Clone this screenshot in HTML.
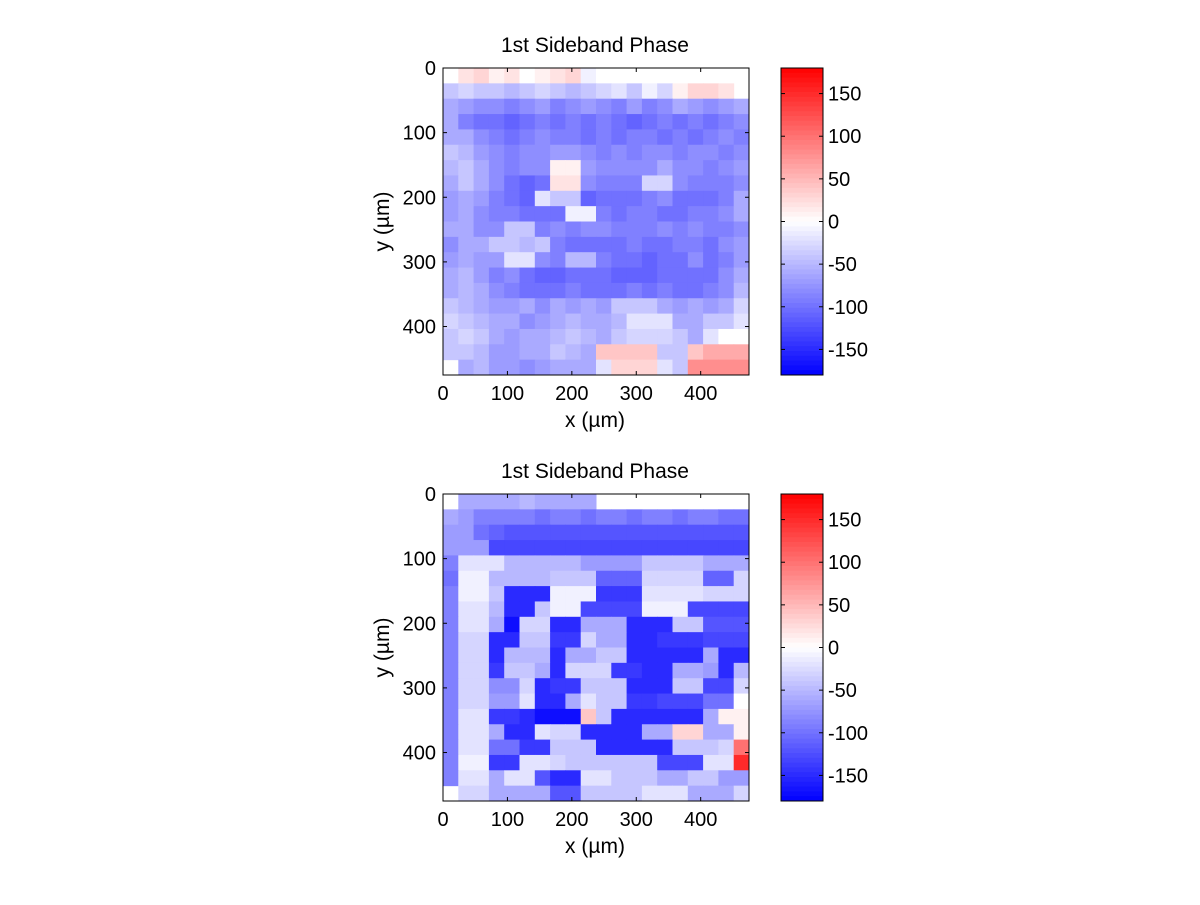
<!DOCTYPE html>
<html><head><meta charset="utf-8"><style>
body{margin:0;background:#fff;}
svg text{font-family:"Liberation Sans",Arial,sans-serif;fill:#000;}
</style></head><body>
<svg id="fig" width="1200" height="900" xmlns="http://www.w3.org/2000/svg"></svg>
<script>
const N=NaN;
const xTicks=[0,100,200,300,400];
const yTicks=[0,100,200,300,400];
const cbTicks=[150,100,50,0,-50,-100,-150];
const topPhase=[
[N,20,30,10,20,0,10,20,30,-10,0,N,N,N,N,N,N,N,N,N],
[-40,-30,-40,-40,-50,-40,-30,-40,-50,-40,-30,-20,-40,-10,-30,10,30,30,20,N],
[-60,-70,-80,-80,-90,-80,-70,-90,-80,-70,-80,-90,-70,-90,-80,-60,-70,-80,-70,-60],
[-60,-90,-100,-100,-110,-100,-90,-100,-90,-100,-90,-100,-110,-100,-90,-100,-90,-100,-90,-80],
[-60,-60,-80,-90,-100,-90,-80,-90,-90,-100,-90,-100,-90,-90,-100,-90,-100,-90,-80,-90],
[-40,-50,-70,-80,-90,-80,-80,-70,-70,-80,-90,-80,-90,-80,-80,-90,-80,-80,-90,-80],
[-50,-40,-60,-80,-90,-80,-80,10,10,-70,-80,-80,-80,-80,-60,-80,-80,-90,-80,-70],
[-60,-40,-60,-80,-100,-110,-100,20,20,-80,-90,-90,-90,-30,-30,-80,-90,-90,-90,-80],
[-70,-60,-70,-90,-100,-110,-20,-40,-40,-110,-100,-100,-100,-90,-80,-100,-100,-100,-90,-60],
[-70,-60,-80,-90,-90,-100,-100,-100,-10,-10,-90,-100,-90,-90,-100,-100,-90,-90,-80,-60],
[-60,-60,-80,-80,-40,-40,-90,-80,-90,-80,-80,-90,-90,-90,-80,-90,-80,-90,-90,-80],
[-80,-60,-60,-40,-40,-50,-40,-90,-100,-100,-100,-100,-90,-100,-100,-90,-90,-100,-80,-70],
[-70,-60,-70,-70,-20,-20,-80,-90,-50,-50,-90,-100,-100,-110,-100,-100,-80,-100,-90,-70],
[-60,-50,-70,-90,-80,-100,-110,-110,-100,-100,-100,-110,-110,-110,-100,-100,-100,-100,-80,-60],
[-60,-50,-60,-80,-90,-100,-100,-100,-90,-100,-100,-100,-90,-100,-90,-100,-100,-90,-80,-50],
[-40,-50,-60,-70,-70,-60,-80,-60,-70,-60,-70,-40,-40,-40,-60,-70,-60,-70,-60,-30],
[-30,-40,-50,-60,-60,-80,-70,-60,-50,-60,-60,-50,-20,-20,-20,-60,-60,-40,-40,-20],
[-40,-30,-40,-60,-70,-60,-60,-50,-40,-50,-60,-40,-30,-30,-30,-40,-60,-20,0,0],
[-40,-40,-50,-70,-70,-60,-60,-40,-50,-60,40,40,40,40,-40,-40,40,60,60,60],
[N,-60,-50,-70,-70,-80,-70,-60,-60,-60,-20,30,30,30,-20,-40,80,80,80,80]];
const botPhase=[
[N,-60,-60,-60,-60,-50,-60,-60,-60,-60,N,N,N,N,N,N,N,N,N,N],
[-60,-70,-90,-90,-90,-90,-100,-90,-90,-100,-90,-90,-100,-90,-90,-100,-90,-90,-100,-100],
[-70,-70,-100,-110,-120,-120,-120,-120,-120,-120,-120,-120,-120,-120,-120,-120,-120,-120,-120,-120],
[-70,-70,-70,-130,-130,-130,-130,-130,-130,-130,-130,-130,-130,-130,-130,-130,-130,-130,-130,-130],
[-90,-20,-20,-20,-50,-50,-50,-50,-50,-70,-70,-70,-70,-40,-40,-40,-40,-60,-60,-60],
[-100,-10,-10,-50,-50,-50,-50,-40,-40,-40,-110,-110,-110,-30,-30,-30,-30,-110,-110,-30],
[-90,-10,-10,-40,-150,-150,-150,-10,-10,-10,-140,-140,-140,-20,-20,-20,-20,-30,-30,-30],
[-90,-20,-20,-50,-150,-150,-40,-10,-10,-130,-130,-130,-130,-10,-10,-10,-130,-130,-130,-130],
[-90,-20,-20,-60,-170,-30,-30,-150,-150,-60,-60,-60,-150,-150,-150,-40,-40,-120,-120,-120],
[-90,-30,-30,-150,-150,-40,-40,-140,-140,-30,-60,-60,-150,-150,-140,-140,-140,-130,-130,-130],
[-90,-30,-30,-150,-50,-50,-50,-150,-60,-60,-40,-40,-150,-150,-150,-150,-150,-60,-150,-150],
[-90,-30,-30,-140,-40,-40,-60,-150,-30,-30,-30,-140,-140,-150,-150,-60,-60,-70,-150,-50],
[-90,-30,-30,-80,-80,-30,-150,-140,-140,-40,-40,-40,-150,-150,-150,-40,-40,-130,-130,-30],
[-90,-30,-30,-70,-70,-20,-150,-150,-60,-20,-40,-40,-140,-140,-130,-130,-130,-100,-100,0],
[-90,-20,-20,-140,-140,-150,-170,-170,-170,40,-40,-150,-150,-150,-150,-150,-150,-60,10,10],
[-90,-20,-20,-60,-150,-150,-20,-30,-30,-150,-150,-150,-150,-60,-60,30,30,-60,-60,10],
[-90,-20,-20,-100,-100,-140,-140,-40,-40,-40,-150,-150,-150,-150,-150,-40,-40,-40,-30,100],
[-90,-10,-10,-140,-140,-20,-20,-30,-40,-40,-40,-40,-40,-40,-130,-130,-130,-20,-20,150],
[-90,-20,-20,-60,-20,-20,-120,-150,-150,-20,-20,-40,-40,-40,-60,-60,-40,-40,-70,-70],
[N,-30,-30,-60,-60,-60,-60,-120,-120,-40,-40,-40,-40,-20,-20,-20,-60,-60,-60,-30]];

const NS="http://www.w3.org/2000/svg";
const svg=document.getElementById('fig');
function mk(tag,attrs,parent){const e=document.createElementNS(NS,tag);for(const k in attrs)e.setAttribute(k,attrs[k]);(parent||svg).appendChild(e);return e;}
function color(v){const t=Math.max(-1,Math.min(1,v/180));
 if(t<0){const c=Math.round(255*(1+t));return `rgb(${c},${c},255)`;}
 const c=Math.round(255*(1-t));return `rgb(255,${c},${c})`;}
const AX0=443,AX1=749,DMAX=475,FS=20;
function drawPanel(top,data,idx){
 const bot=top+307;
 const sx=v=>AX0+(v/DMAX)*(AX1-AX0);
 const sy=v=>top+(v/DMAX)*(bot-top);
 const g=mk('g',{});
 
 
 const rows=data.length,cols=data[0].length;
 for(let r=0;r<rows;r++)for(let c=0;c<cols;c++){
  const v=data[r][c]; if(isNaN(v))continue;
  const x0=sx(c*DMAX/cols),x1=sx((c+1)*DMAX/cols),y0=sy(r*DMAX/rows),y1=sy((r+1)*DMAX/rows);
  const cell=mk('rect',{x:x0,y:y0,width:x1-x0+0.5,height:y1-y0+0.5,fill:color(v)},g);
  
  
 }
 const frame=mk('rect',{x:AX0,y:top,width:AX1-AX0,height:bot-top,fill:'none',stroke:'#000','stroke-width':1});
 
 
 xTicks.forEach(t=>{const x=sx(t);
  mk('line',{x1:x,x2:x,y1:bot,y2:bot-4,stroke:'#000'});mk('line',{x1:x,x2:x,y1:top,y2:top+4,stroke:'#000'});
  const tx=mk('text',{x:x,y:bot+25,'font-size':FS,'text-anchor':'middle'});tx.textContent=t;
  
  });
 yTicks.forEach(t=>{const y=sy(t);
  mk('line',{x1:AX0,x2:AX0+4,y1:y,y2:y,stroke:'#000'});mk('line',{x1:AX1,x2:AX1-4,y1:y,y2:y,stroke:'#000'});
  const tx=mk('text',{x:AX0-7,y:y+7,'font-size':FS,'text-anchor':'end'});tx.textContent=t;
  
  });
 const ti=mk('text',{x:595,y:top-16,'font-size':21,'text-anchor':'middle'});ti.textContent='1st Sideband Phase';
 
 
 const xl=mk('text',{x:595,y:bot+52,'font-size':21,'text-anchor':'middle'});xl.textContent='x (\u00b5m)';
 
 
 const yl=mk('text',{x:0,y:0,'font-size':21,'text-anchor':'middle',transform:`translate(389,${(top+bot)/2}) rotate(-90)`});yl.textContent='y (\u00b5m)';
 
 
 const cb=mk('g',{});
 
 
 const CX0=781,CX1=823,n=64;
 for(let i=0;i<n;i++){const v=180-(i+0.5)*360/n;
  mk('rect',{x:CX0,y:top+i*(bot-top)/n,width:CX1-CX0,height:(bot-top)/n+0.5,fill:color(v)},cb);}
 mk('rect',{x:CX0,y:top,width:CX1-CX0,height:bot-top,fill:'none',stroke:'#000'},cb);
 const cy=v=>top+(180-v)/360*(bot-top);
 cbTicks.forEach(t=>{const y=cy(t);
  mk('line',{x1:CX0,x2:CX0+4,y1:y,y2:y,stroke:'#000'},cb);mk('line',{x1:CX1,x2:CX1-4,y1:y,y2:y,stroke:'#000'},cb);
  const tx=mk('text',{x:CX1+5,y:y+7,'font-size':FS},cb);tx.textContent=t;
  
  });
}
drawPanel(68,topPhase,1);
drawPanel(494,botPhase,2);
</script>
</body></html>
